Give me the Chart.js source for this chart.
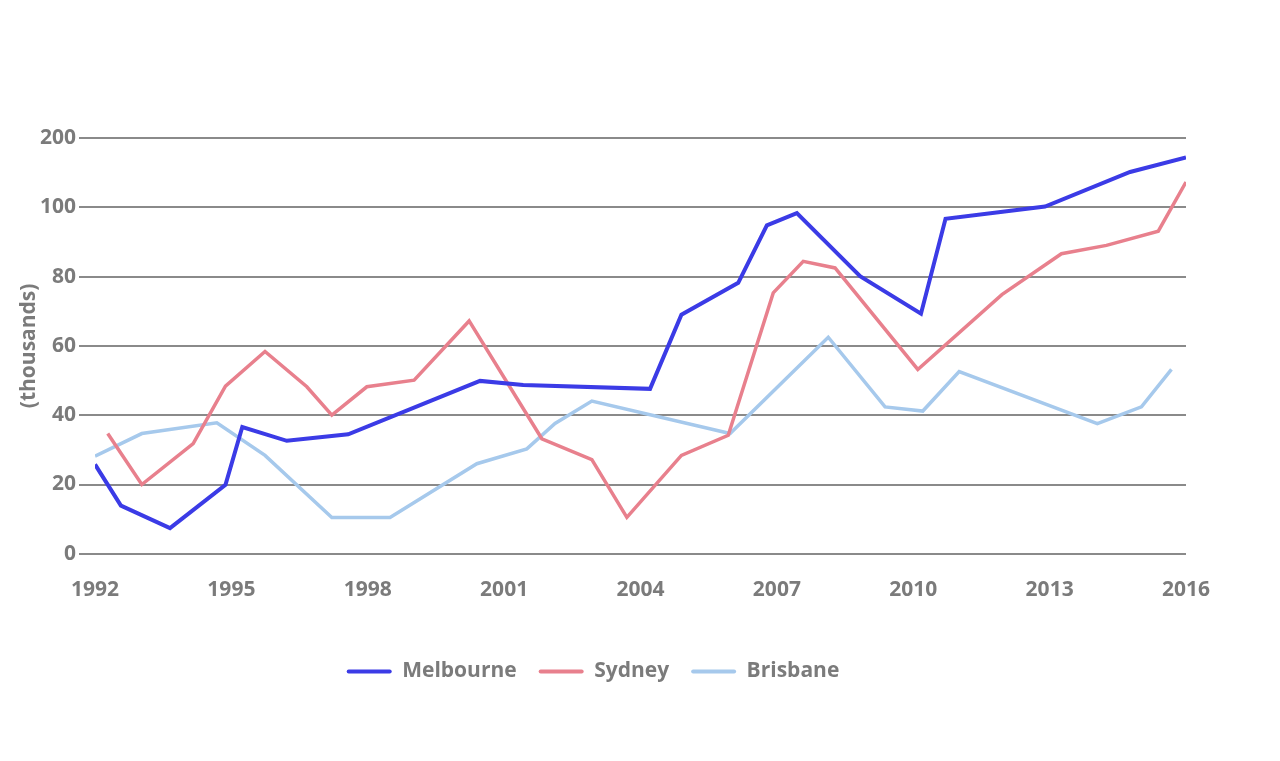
<!DOCTYPE html>
<html>
<head>
<meta charset="utf-8">
<script src="https://cdn.jsdelivr.net/npm/chart.js@4.4.1/dist/chart.umd.min.js"></script>
<style>
  html, body { margin: 0; padding: 0; background: #fff; }
  #wrap { width: 1280px; height: 761px; }
</style>
</head>
<body>
<div id="wrap"><canvas id="chart"></canvas></div>
<script>
// values (x in fractional years, y in thousands)
const melbourneYears = [1992, 1992.57, 1993.65, 1994.87, 1995.24, 1996.22, 1997.57, 2000.47, 2001.42, 2004.21, 2004.9, 2006.15, 2006.78, 2007.44, 2008.83, 2010.17, 2010.71, 2012.9, 2014.77, 2016];
const melbourneValues = [25.8, 13.9, 7.4, 19.9, 36.6, 32.6, 34.5, 49.9, 48.7, 47.6, 69.0, 78.2, 94.8, 98.3, 80.1, 69.3, 96.7, 100.2, 110.2, 114.4];

const sydneyYears = [1992.28, 1993.03, 1994.16, 1994.87, 1995.74, 1996.66, 1997.21, 1997.98, 1999.02, 2000.23, 2001.83, 2002.93, 2003.7, 2004.9, 2005.93, 2006.92, 2007.58, 2008.28, 2010.1, 2011.95, 2013.26, 2014.25, 2015.39, 2016];
const sydneyValues = [34.7, 20.0, 31.8, 48.4, 58.4, 48.2, 40.0, 48.2, 50.1, 67.2, 33.2, 27.2, 10.5, 28.4, 34.2, 75.3, 84.4, 82.5, 53.2, 74.8, 86.6, 89.0, 93.1, 107.3];

const brisbaneYears = [1992, 1993.03, 1994.68, 1995.74, 1997.21, 1998.49, 2000.4, 2001.5, 2002.12, 2002.93, 2005.97, 2008.13, 2009.38, 2010.21, 2011.01, 2014.05, 2015.02, 2015.68];
const brisbaneValues = [28.2, 34.7, 37.8, 28.4, 10.5, 10.5, 26.0, 30.3, 37.6, 44.1, 34.7, 62.5, 42.4, 41.2, 52.6, 37.6, 42.4, 53.2];

const seriesNames = ['Melbourne', 'Sydney', 'Brisbane'];
const yTickLabels = ['0', '20', '40', '60', '80', '100', '200'];

const textGrey = '#7b7b7b';
const font = { family: 'Open Sans', weight: 'bold', size: 21 };

function toPoints(xs, ys) {
  return xs.map((x, i) => ({ x: x, y: ys[i] }));
}

const ctx = document.getElementById('chart').getContext('2d');
const chart = new Chart(ctx, {
  type: 'line',
  data: {
    datasets: [{
      label: seriesNames[0],
      data: toPoints(melbourneYears, melbourneValues),
      borderColor: '#3b3be6',
      backgroundColor: '#3b3be6',
      borderWidth: 4
    }, {
      label: seriesNames[1],
      data: toPoints(sydneyYears, sydneyValues),
      borderColor: '#e8808d',
      backgroundColor: '#e8808d',
      borderWidth: 3.5
    }, {
      label: seriesNames[2],
      data: toPoints(brisbaneYears, brisbaneValues),
      borderColor: '#a6c9ec',
      backgroundColor: '#a6c9ec',
      borderWidth: 3.5
    }]
  },
  options: {
    responsive: true,
    maintainAspectRatio: false,
    animation: false,
    layout: {
      padding: { top: 138, right: 94, left: 0, bottom: 69 }
    },
    elements: {
      point: { radius: 0 },
      line: { tension: 0 }
    },
    scales: {
      x: {
        type: 'linear',
        min: 1992,
        max: 2016,
        grid: { display: false },
        border: { display: false },
        ticks: {
          stepSize: 3,
          color: textGrey,
          font: font,
          padding: 16,
          callback: (v) => String(v)
        },
        afterFit: (scale) => { scale.height += 20; }
      },
      y: {
        min: 0,
        max: 120,
        border: { display: false },
        grid: {
          color: '#8a8a8a',
          lineWidth: 2,
          drawTicks: true,
          tickLength: 16,
          tickColor: '#8a8a8a'
        },
        ticks: {
          stepSize: 20,
          color: textGrey,
          font: font,
          padding: 3,
          callback: (v, i) => yTickLabels[i]
        },
        title: {
          display: true,
          text: '(thousands)',
          color: textGrey,
          font: font,
          padding: { top: 16, bottom: 0 }
        },
        afterFit: (scale) => { scale.width = 95; }
      }
    },
    plugins: {
      legend: {
        position: 'bottom',
        labels: {
          color: textGrey,
          font: font,
          boxWidth: 45,
          boxHeight: 4,
          padding: 22,
          useBorderRadius: true,
          borderRadius: 2,
          // flat line swatches, no outline
          generateLabels: (c) => Chart.defaults.plugins.legend.labels.generateLabels(c)
            .map(item => Object.assign(item, { lineWidth: 0 }))
        }
      },
      tooltip: { enabled: false }
    }
  }
});
</script>
</body>
</html>
